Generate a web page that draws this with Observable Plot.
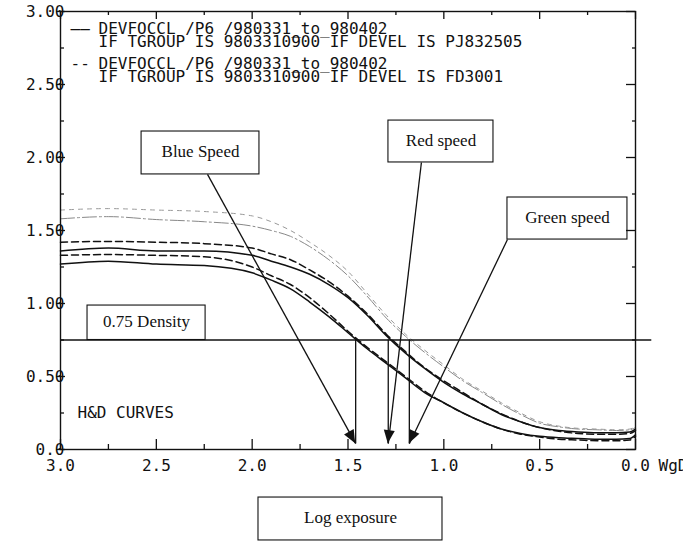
<!DOCTYPE html>
<html><head><meta charset="utf-8">
<script src="https://cdn.jsdelivr.net/npm/d3@7"></script>
<script src="https://cdn.jsdelivr.net/npm/@observablehq/plot@0.6"></script>
<style>body{margin:0;background:#fff}</style>
</head><body><div id="chart"></div>
<script>
// ---- data ----
const logE       = [3.0,2.75,2.5,2.25,2.0,1.9,1.8,1.7,1.6,1.5,1.4,1.3,1.2,1.1,1.0,0.9,0.8,0.7,0.6,0.5,0.4,0.3,0.2,0.1,0.03,0.0];
const blueSolid  = [1.27,1.29,1.27,1.26,1.21,1.16,1.10,1.01,0.91,0.80,0.69,0.59,0.49,0.39,0.32,0.25,0.19,0.14,0.11,0.09,0.08,0.075,0.07,0.07,0.075,0.10];
const blueDashed = [1.33,1.335,1.33,1.32,1.25,1.19,1.13,1.04,0.93,0.81,0.70,0.60,0.50,0.40,0.32,0.25,0.19,0.14,0.105,0.085,0.07,0.065,0.06,0.06,0.065,0.09];
const redSolid   = [1.36,1.38,1.36,1.36,1.33,1.29,1.25,1.20,1.13,1.04,0.92,0.78,0.66,0.555,0.46,0.38,0.31,0.24,0.19,0.15,0.13,0.12,0.115,0.115,0.12,0.14];
const redDashed  = [1.42,1.425,1.42,1.41,1.38,1.34,1.30,1.23,1.15,1.05,0.93,0.79,0.67,0.56,0.47,0.39,0.31,0.245,0.19,0.15,0.125,0.11,0.105,0.105,0.11,0.13];
const greenSolid = [1.58,1.595,1.575,1.56,1.53,1.50,1.46,1.39,1.30,1.19,1.05,0.90,0.775,0.665,0.565,0.47,0.39,0.31,0.24,0.18,0.155,0.14,0.135,0.13,0.135,0.15];
const greenDashed= [1.64,1.65,1.64,1.63,1.60,1.56,1.50,1.42,1.33,1.22,1.07,0.92,0.79,0.68,0.58,0.48,0.40,0.32,0.25,0.19,0.16,0.145,0.14,0.135,0.14,0.16];

const xMajor = [3,2.5,2,1.5,1,0.5,0];
const xMinor = [2.75,2.25,1.75,1.25,0.75,0.25];
const xTickLabels = ["3.0","2.5","2.0","1.5","1.0","0.5","0.0"];
const yMajor = [0,0.5,1,1.5,2,2.5,3];
const yMinor = [0.25,0.75,1.25,1.75,2.25,2.75];
const yTickLabels = ["0.0","0.50","1.00","1.50","2.00","2.50","3.00"];

const legendLines = [
  "DEVFOCCL /P6 /980331_to_980402",
  "IF TGROUP IS 9803310900 IF DEVEL IS PJ832505",
  "DEVFOCCL /P6 /980331_to_980402",
  "IF TGROUP IS 9803310900 IF DEVEL IS FD3001"
];
const legendSymbols = ["\u2014\u2014", "--"];
const densityLevel = 0.75;
const speedNames  = ["Blue Speed","Red speed","Green speed"];
const speedValues = [1.46, 1.29, 1.18];
const tipDensity = 0.04;

// annotation boxes (data units)
const boxLabels = ["Blue Speed","Red speed","Green speed","0.75 Density","Log exposure"];
const boxX1 = [2.577,1.289,0.668,2.859,1.967];
const boxX2 = [1.962,0.741,0.042,2.243,1.007];
const boxY1 = [1.884,1.966,1.438,0.75,-0.623];
const boxY2 = [2.178,2.253,1.726,0.986,-0.329];
// callout arrow start points (data units)
const calloutX = [2.233,1.117,0.668];
const calloutY = [1.884,1.966,1.438];

// ---- build ----
const W=683,H=545,mL=60,mR=48,mT=11,mB=96;
const fw=W-mL-mR, fh=H-mT-mB;
const mono="DejaVu Sans Mono", serif="Liberation Serif";

const series = [
  {v:blueSolid, dash:null, stroke:"#111", w:1.5},
  {v:blueDashed, dash:"7,4", stroke:"#111", w:1.5},
  {v:redSolid, dash:null, stroke:"#111", w:1.5},
  {v:redDashed, dash:"7,4", stroke:"#111", w:1.5},
  {v:greenSolid, dash:"14,3,2,3", stroke:"#888", w:1},
  {v:greenDashed, dash:"4,5", stroke:"#999", w:1}
];
const curveMarks = series.map(s => Plot.line(logE.map((e,i)=>({e, d:s.v[i]})), {
  x:"e", y:"d", curve:"monotone-x", stroke:s.stroke, strokeWidth:s.w, strokeDasharray:s.dash
}));

const boxes = boxLabels.map((t,i)=>({t, x1:boxX1[i], x2:boxX2[i], y1:boxY1[i], y2:boxY2[i]}));
const callouts = speedNames.map((n,i)=>({n, sx:calloutX[i], sy:calloutY[i], e:speedValues[i]}));

const legendMarks = [];
const legendDy = [11,24,46,59];
legendLines.forEach((t,i)=>{
  legendMarks.push(Plot.text([t], {frameAnchor:"top-left", text:d=>d, dx:38, dy:legendDy[i], textAnchor:"start",
    fontFamily:mono, fontSize:16, fill:"#111", ariaLabel:"legend"}));
});
legendSymbols.forEach((t,i)=>{
  legendMarks.push(Plot.text([t], {frameAnchor:"top-left", text:d=>d, dx:10, dy:legendDy[i*2], textAnchor:"start",
    fontFamily:mono, fontSize:16, fill:"#111", ariaLabel:"legsym"}));
});

const plot = Plot.plot({
  width:W, height:H, marginLeft:mL, marginRight:mR, marginTop:mT, marginBottom:mB,
  x:{domain:[3,0], axis:null},
  y:{domain:[0,3], axis:null},
  style:{background:"white", fontFamily:mono},
  marks:[
    ...curveMarks,
    Plot.ruleY([densityLevel], {x1:3, x2:-0.085, stroke:"#111", strokeWidth:1.3}),
    Plot.ruleX(speedValues, {x:d=>d, y1:densityLevel, y2:tipDensity, stroke:"#111", strokeWidth:1.3}),
    Plot.link(callouts, {x1:"sx", y1:"sy", x2:"e", y2:()=>tipDensity, stroke:"#111", strokeWidth:1.3}),
    Plot.rect(boxes, {x1:"x1", x2:"x2", y1:"y1", y2:"y2", fill:"white", stroke:"#111", strokeWidth:1.1}),
    Plot.text(boxes, {x:d=>(d.x1+d.x2)/2, y:d=>(d.y1+d.y2)/2, text:"t", fontFamily:serif, fontSize:17, dy:-1, fill:"#111"}),
    Plot.frame({stroke:"#111", strokeWidth:1.4}),
    // ticks
    Plot.tickX(xMajor, {x:d=>d, insetTop:fh-10, stroke:"#111", strokeWidth:1.3}),
    Plot.tickX(xMinor, {x:d=>d, insetTop:fh-5, stroke:"#111", strokeWidth:1.3}),
    Plot.tickX(xMajor, {x:d=>d, insetBottom:fh-8, stroke:"#111", strokeWidth:1.3}),
    Plot.tickX(xMinor, {x:d=>d, insetBottom:fh-4, stroke:"#111", strokeWidth:1.3}),
    Plot.tickY(yMajor, {y:d=>d, insetRight:fw-9, dx:-4, stroke:"#111", strokeWidth:1.3}),
    Plot.tickY(yMinor, {y:d=>d, insetRight:fw-4, stroke:"#111", strokeWidth:1.3}),
    Plot.tickY(yMajor, {y:d=>d, insetLeft:fw-9, stroke:"#111", strokeWidth:1.3}),
    Plot.tickY(yMinor, {y:d=>d, insetLeft:fw-3, stroke:"#111", strokeWidth:1.3}),
    // tick labels
    Plot.text(yMajor, {y:d=>d, frameAnchor:"left", text:(d,i)=>yTickLabels[i], textAnchor:"end", dx:4,
      fontFamily:mono, fontSize:16, fill:"#111", ariaLabel:"ylab"}),
    Plot.text(xMajor, {x:d=>d, frameAnchor:"bottom", text:(d,i)=>xTickLabels[i], dy:21,
      fontFamily:mono, fontSize:16, fill:"#111", ariaLabel:"xlab"}),
    Plot.text(["WgD"], {x:0, frameAnchor:"bottom", text:d=>d, dy:21, dx:23, textAnchor:"start",
      fontFamily:mono, fontSize:16, fill:"#111", ariaLabel:"unit"}),
    Plot.text(["H&D CURVES"], {y:0.25, frameAnchor:"left", text:d=>d, dx:17, textAnchor:"start",
      fontFamily:mono, fontSize:16, fill:"#111", ariaLabel:"hd"}),
    ...legendMarks
  ]
});

// condense plotter-style text
const svg = d3.select(plot);
const condense = (label, cw) => svg.selectAll(`g[aria-label="${label}"] text`).each(function(){
  const n = this.textContent.length;
  this.setAttribute("textLength", n*cw);
  this.setAttribute("lengthAdjust","spacingAndGlyphs");
});
condense("legend", 8.57);
condense("ylab", 8.5);
condense("xlab", 9);
condense("unit", 9);
condense("hd", 8.6);
svg.selectAll(`g[aria-label="legsym"] text`).each(function(){
  this.setAttribute("textLength", 18);
  this.setAttribute("lengthAdjust","spacingAndGlyphs");
});

// filled arrowheads through the plot's scales
const xs = plot.scale("x"), ys = plot.scale("y");
const fx = xs.apply ? (v)=>xs.apply(v) : d3.scaleLinear(xs.domain, xs.range);
const fy = ys.apply ? (v)=>ys.apply(v) : d3.scaleLinear(ys.domain, ys.range);
const heads = svg.append("g").attr("aria-label","arrowheads");
callouts.forEach(c=>{
  const x0=fx(c.sx), y0=fy(c.sy), x1=fx(c.e), y1=fy(tipDensity);
  const len=Math.hypot(x1-x0,y1-y0), ux=(x1-x0)/len, uy=(y1-y0)/len;
  const L=13, hw=5.5;
  const bx=x1-L*ux, by=y1-L*uy;
  heads.append("path")
    .attr("d",`M${x1},${y1}L${bx-hw*uy},${by+hw*ux}L${bx+hw*uy},${by-hw*ux}Z`)
    .attr("fill","#111");
});

document.getElementById("chart").appendChild(plot);
</script>
</body></html>
